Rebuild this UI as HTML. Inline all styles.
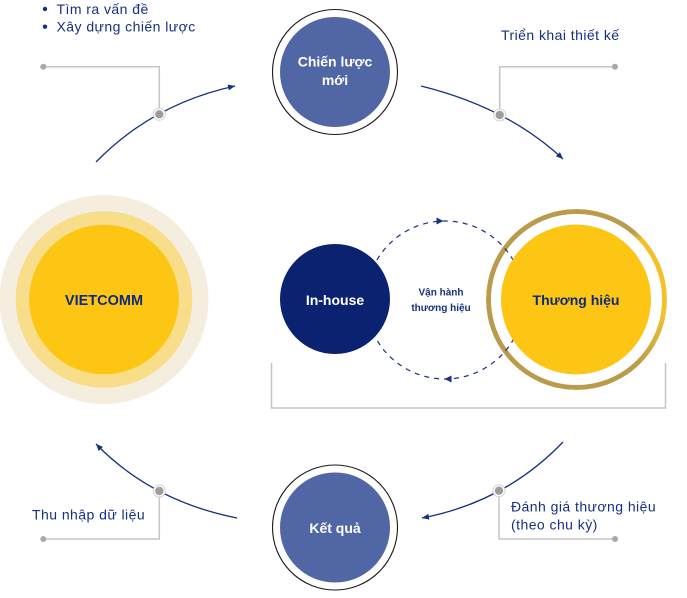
<!DOCTYPE html>
<html>
<head>
<meta charset="utf-8">
<style>
  html,body{margin:0;padding:0;background:#fff;}
  body{width:687px;height:598px;position:relative;overflow:hidden;}
  #ring{position:absolute;left:485.5px;top:209px;width:181px;height:181px;border-radius:50%;
    background:conic-gradient(from 0deg, #b99b4b 0deg 40deg, #f3c12a 48deg 100deg, #b99b4b 138deg 360deg);
    -webkit-mask:radial-gradient(circle at center, transparent 85.3px, #000 85.8px);
    mask:radial-gradient(circle at center, transparent 85.3px, #000 85.8px);}
  svg{position:absolute;left:0;top:0;}
  text{font-family:"Liberation Sans","DejaVu Sans",sans-serif;}
  .lbl{font-size:14px;letter-spacing:0.45px;fill:#15307f;}
  .wb{font-size:14px;font-weight:bold;fill:#fff;}
  .nb{font-size:14px;font-weight:bold;fill:#0f2a78;}
</style>
</head>
<body>
<div id="ring"></div>
<svg width="687" height="598" viewBox="0 0 687 598" xmlns="http://www.w3.org/2000/svg">
  <defs>
    <marker id="ah" markerUnits="userSpaceOnUse" markerWidth="8" markerHeight="7" refX="7" refY="3.5" orient="auto">
      <path d="M0,0.5 L7,3.5 L0,6.5 Z" fill="#15307f"/>
    </marker>
  </defs>

  <!-- top-left bullets -->
  <circle cx="45" cy="9" r="2.2" fill="#15307f"/>
  <text class="lbl" x="56.5" y="14">Tìm ra vấn đề</text>
  <circle cx="45" cy="26.7" r="2.2" fill="#15307f"/>
  <text class="lbl" x="56.5" y="31.7">Xây dựng chiến lược</text>

  <!-- labels -->
  <text class="lbl" x="501" y="40">Triển khai thiết kế</text>
  <text class="lbl" x="32" y="519.3">Thu nhập dữ liệu</text>
  <text class="lbl" x="511" y="511.7">Đánh giá thương hiệu</text>
  <text class="lbl" x="511" y="529.3">(theo chu kỳ)</text>

  <!-- gray connectors -->
  <g fill="none" stroke="#c6c6c6" stroke-width="1.5">
    <path d="M43.3,66.7 H159.3 V114.3"/>
    <path d="M615,66.7 H499.7 V115"/>
    <path d="M43.3,539 H159.3 V491"/>
    <path d="M615,539 H499 V490.7"/>
    <path d="M271.5,363 V408 H665.5 V363"/>
  </g>
  <g fill="#a9a9a9">
    <circle cx="43.3" cy="66.7" r="3"/>
    <circle cx="615" cy="66.7" r="3"/>
    <circle cx="43.3" cy="539" r="3"/>
    <circle cx="615" cy="539" r="3"/>
  </g>

  <!-- arcs -->
  <g fill="none" stroke="#15307f" stroke-width="1.3" marker-end="url(#ah)">
    <path d="M96,162 Q152.5,104 235,86"/>
    <path d="M421,86 Q508,107.5 563,159"/>
    <path d="M237,518 Q151.5,501 96,444"/>
    <path d="M563,442 Q505.5,502 422,518"/>
  </g>

  <!-- junction dots -->
  <g>
    <circle cx="159.3" cy="114.3" r="6" fill="#fff" stroke="#d2d2d2" stroke-width="1"/>
    <circle cx="159.3" cy="114.3" r="4.2" fill="#9d9d9d"/>
    <circle cx="499.7" cy="115" r="6" fill="#fff" stroke="#d2d2d2" stroke-width="1"/>
    <circle cx="499.7" cy="115" r="4.2" fill="#9d9d9d"/>
    <circle cx="159.3" cy="491" r="6" fill="#fff" stroke="#d2d2d2" stroke-width="1"/>
    <circle cx="159.3" cy="491" r="4.2" fill="#9d9d9d"/>
    <circle cx="499" cy="490.7" r="6" fill="#fff" stroke="#d2d2d2" stroke-width="1"/>
    <circle cx="499" cy="490.7" r="4.2" fill="#9d9d9d"/>
  </g>

  <!-- VIETCOMM -->
  <circle cx="104" cy="299.5" r="104.5" fill="#f5eedf"/>
  <circle cx="104" cy="299.5" r="88.3" fill="#f8dd8b"/>
  <circle cx="104" cy="299.5" r="74.8" fill="#fec614"/>
  <text class="nb" x="104" y="305" text-anchor="middle" style="font-size:14.5px">VIETCOMM</text>

  <!-- Chiến lược mới -->
  <circle cx="335" cy="72" r="62.5" fill="#fff" stroke="#1a1a1a" stroke-width="1.1"/>
  <circle cx="335" cy="72" r="55" fill="#5166a4"/>
  <text class="wb" x="335" y="66.7" text-anchor="middle">Chiến lược</text>
  <text class="wb" x="335" y="85" text-anchor="middle">mới</text>

  <!-- Kết quả -->
  <circle cx="335" cy="527.5" r="62.5" fill="#fff" stroke="#1a1a1a" stroke-width="1.1"/>
  <circle cx="335" cy="527.5" r="55" fill="#5166a4"/>
  <text class="wb" x="335" y="533" text-anchor="middle">Kết quả</text>

  <!-- dashed cycle -->
  <circle cx="445" cy="300" r="79" fill="none" stroke="#1b3182" stroke-width="1.2" stroke-dasharray="5 5"/>
  <path d="M443.5,221 L436.5,217.5 L436.5,224.5 Z" fill="#1b3182"/>
  <path d="M444.5,379 L451.5,375.5 L451.5,382.5 Z" fill="#1b3182"/>

  <!-- Thương hiệu -->
  <circle cx="576" cy="299.5" r="75" fill="#fec614"/>
  <text class="nb" x="576" y="305" text-anchor="middle">Thương hiệu</text>

  <!-- In-house -->
  <circle cx="335" cy="299" r="55" fill="#0b2270"/>
  <text class="wb" x="335" y="305" text-anchor="middle">In-house</text>

  <!-- center label -->
  <text x="441" y="295.5" text-anchor="middle" style="font-size:10px;font-weight:bold;fill:#15307f">Vận hành</text>
  <text x="441" y="311" text-anchor="middle" style="font-size:10px;font-weight:bold;fill:#15307f">thương hiệu</text>
</svg>
</body>
</html>
